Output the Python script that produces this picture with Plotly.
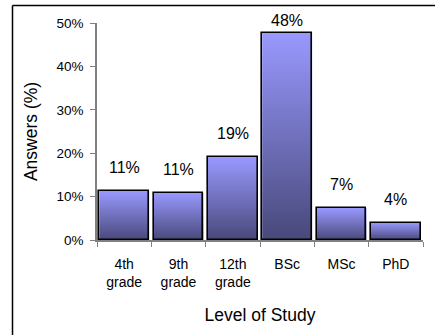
import plotly.graph_objects as go

categories = ["4th<br>grade", "9th<br>grade", "12th<br>grade", "BSc", "MSc", "PhD"]
values = [11.3, 10.9, 19.1, 47.8, 7.4, 4.0]
y_ticks = [0, 10, 20, 30, 40, 50]
y_tick_labels = ["0%", "10%", "20%", "30%", "40%", "50%"]

W, H = 435, 335
L, R, T, B = 97, 12, 23, 95
BAR_W = 0.92
LIGHT = "#9999FF"
DARK = "#48487A"
FONT = "Liberation Sans, Arial, sans-serif"
LABEL_GAP = 3.0
LABEL_MAX = 48.2

fig = go.Figure()
xs = list(range(len(values)))

# gradient fills (below)
for i, v in zip(xs, values):
    fig.add_trace(go.Scatter(
        x=[i - BAR_W / 2, i + BAR_W / 2, i + BAR_W / 2, i - BAR_W / 2, i - BAR_W / 2],
        y=[0, 0, v, v, 0],
        mode="lines", fill="toself", line=dict(width=0),
        fillgradient=dict(type="vertical", colorscale=[[0, DARK], [1, LIGHT]]),
        hoverinfo="skip", showlegend=False, xaxis="x", yaxis="y"))

# bar outlines (overlay on top)
fig.add_trace(go.Bar(
    x=xs, y=values, width=BAR_W,
    marker=dict(color="rgba(0,0,0,0)", line=dict(color="black", width=1.6)),
    showlegend=False, xaxis="x2", yaxis="y2"))

for i, v in zip(xs, values):
    fig.add_annotation(x=i, y=min(v + LABEL_GAP, LABEL_MAX), xref="x", yref="y",
                       text=f"{round(v)}%", showarrow=False, yanchor="bottom",
                       font=dict(size=16, color="black", family=FONT))

pw = W - L - R
ph = H - T - B
def px_x(p):
    return (p - L) / pw
def px_y(p):
    return (H - B - p) / ph

# outer frame (left and top edges)
fig.add_shape(type="line", xref="paper", yref="paper",
              x0=px_x(12.5), y0=px_y(5.5), x1=px_x(12.5), y1=px_y(340),
              line=dict(color="black", width=1.5))
fig.add_shape(type="line", xref="paper", yref="paper",
              x0=px_x(12.5), y0=px_y(5.5), x1=px_x(440), y1=px_y(5.5),
              line=dict(color="black", width=1.5))

fig.update_layout(
    width=W, height=H,
    margin=dict(l=L, r=R, t=T, b=B),
    paper_bgcolor="white", plot_bgcolor="white",
    font=dict(family=FONT, color="black"),
    bargap=0,
    xaxis=dict(range=[-0.5, len(values) - 0.5], tickvals=xs, ticktext=categories,
               ticks="", showline=True, linecolor="#808080", linewidth=1.5,
               showgrid=False, zeroline=False, fixedrange=True,
               tickfont=dict(size=14), ticklabelstandoff=10,
               minor=dict(tick0=-0.5, dtick=1, ticks="outside", ticklen=5,
                          tickcolor="#808080", tickwidth=1, showgrid=False),
               title=dict(text="Level of Study", font=dict(size=17.5), standoff=20)),
    yaxis=dict(range=[0, 50], tickvals=y_ticks, ticktext=y_tick_labels,
               ticks="outside", ticklen=5, tickcolor="#808080",
               showline=True, linecolor="#808080", linewidth=1.5,
               showgrid=False, zeroline=False, tickfont=dict(size=13.5),
               ticklabelstandoff=4,
               title=dict(text="Answers (%)", font=dict(size=17.5), standoff=14)),
    xaxis2=dict(range=[-0.5, len(values) - 0.5], overlaying="x", visible=False),
    yaxis2=dict(range=[0, 50], overlaying="y", visible=False),
)

fig.write_html("out.html")
